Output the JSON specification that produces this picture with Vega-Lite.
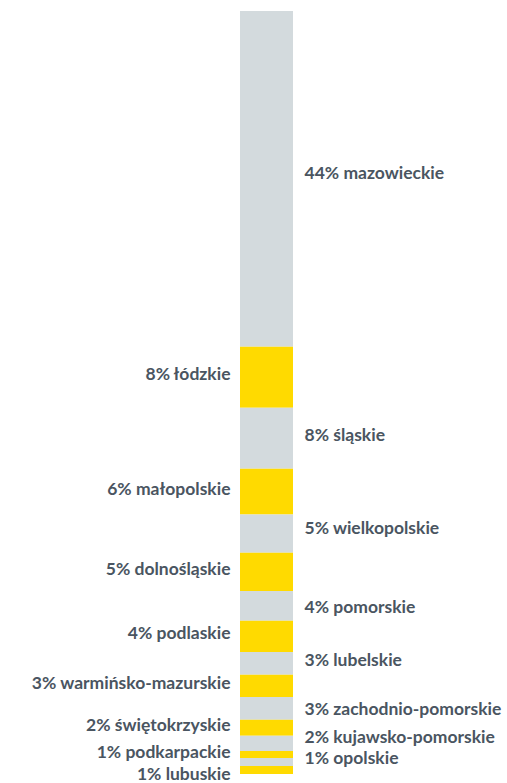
{
  "$schema": "https://vega.github.io/schema/vega-lite/v6.json",
  "autosize": "none",
  "width": 53,
  "height": 763,
  "padding": {"left": 240, "top": 11, "right": 214, "bottom": 9},
  "background": "white",
  "config": {"view": {"stroke": null}},
  "data": {"values": [
    {"region": "mazowieckie", "label": "44% mazowieckie", "pct": 44.0, "order": 1, "group": "a"},
    {"region": "łódzkie", "label": "8% łódzkie", "pct": 8.0, "order": 2, "group": "b"},
    {"region": "śląskie", "label": "8% śląskie", "pct": 8.0, "order": 3, "group": "a"},
    {"region": "małopolskie", "label": "6% małopolskie", "pct": 6.0, "order": 4, "group": "b"},
    {"region": "wielkopolskie", "label": "5% wielkopolskie", "pct": 5.0, "order": 5, "group": "a"},
    {"region": "dolnośląskie", "label": "5% dolnośląskie", "pct": 5.0, "order": 6, "group": "b"},
    {"region": "pomorskie", "label": "4% pomorskie", "pct": 3.9, "order": 7, "group": "a"},
    {"region": "podlaskie", "label": "4% podlaskie", "pct": 4.1, "order": 8, "group": "b"},
    {"region": "lubelskie", "label": "3% lubelskie", "pct": 3.0, "order": 9, "group": "a"},
    {"region": "warmińsko-mazurskie", "label": "3% warmińsko-mazurskie", "pct": 2.9, "order": 10, "group": "b"},
    {"region": "zachodnio-pomorskie", "label": "3% zachodnio-pomorskie", "pct": 3.0, "order": 11, "group": "a"},
    {"region": "świętokrzyskie", "label": "2% świętokrzyskie", "pct": 2.1, "order": 12, "group": "b"},
    {"region": "kujawsko-pomorskie", "label": "2% kujawsko-pomorskie", "pct": 2.0, "order": 13, "group": "a"},
    {"region": "podkarpackie", "label": "1% podkarpackie", "pct": 0.9, "order": 14, "group": "b"},
    {"region": "opolskie", "label": "1% opolskie", "pct": 1.05, "order": 15, "group": "a"},
    {"region": "lubuskie", "label": "1% lubuskie", "pct": 1.05, "order": 16, "group": "b"}
  ]},
  "transform": [
    {"stack": "pct", "sortby": [{"field": "order", "order": "ascending"}], "as": ["y0", "y1"]},
    {"calculate": "(datum.y0 + datum.y1) / 2", "as": "ymid"},
    {"calculate": "'Polska'", "as": "bar"}
  ],
  "encoding": {
    "x": {"field": "bar", "type": "nominal", "axis": null, "scale": {"paddingInner": 0, "paddingOuter": 0}}
  },
  "layer": [
    {
      "mark": {"type": "bar"},
      "encoding": {
        "y": {"field": "y0", "type": "quantitative", "axis": null, "scale": {"domain": [0, 100], "reverse": true, "nice": false}},
        "y2": {"field": "y1"},
        "color": {"field": "group", "type": "nominal", "legend": null, "scale": {"domain": ["a", "b"], "range": ["#d3dadd", "#ffda00"]}}
      }
    },
    {
      "transform": [{"filter": "datum.group == 'a' && indexof(['mazowieckie','wielkopolskie','kujawsko-pomorskie','opolskie','zachodnio-pomorskie','pomorskie'], datum.region) < 0"}],
      "mark": {"type": "text", "align": "left", "baseline": "middle", "dx": 38, "dy": -2, "font": "Lato", "fontWeight": "bold", "fontSize": 17.5, "letterSpacing": 0.5, "color": "#4a5561"},
      "encoding": {"y": {"field": "ymid", "type": "quantitative"}, "text": {"field": "label"}}
    },
    {
      "transform": [{"filter": "indexof(['mazowieckie','wielkopolskie','kujawsko-pomorskie'], datum.region) >= 0"}],
      "mark": {"type": "text", "align": "left", "baseline": "middle", "dx": 38, "dy": -5, "font": "Lato", "fontWeight": "bold", "fontSize": 17.5, "letterSpacing": 0.5, "color": "#4a5561"},
      "encoding": {"y": {"field": "ymid", "type": "quantitative"}, "text": {"field": "label"}}
    },
    {
      "transform": [{"filter": "datum.region == 'opolskie'"}],
      "mark": {"type": "text", "align": "left", "baseline": "middle", "dx": 38, "dy": -3, "font": "Lato", "fontWeight": "bold", "fontSize": 17.5, "letterSpacing": 0.5, "color": "#4a5561"},
      "encoding": {"y": {"field": "ymid", "type": "quantitative"}, "text": {"field": "label"}}
    },
    {
      "transform": [{"filter": "datum.region == 'zachodnio-pomorskie' || datum.region == 'pomorskie'"}],
      "mark": {"type": "text", "align": "left", "baseline": "middle", "dx": 38, "dy": 2, "font": "Lato", "fontWeight": "bold", "fontSize": 17.5, "letterSpacing": 0.5, "color": "#4a5561"},
      "encoding": {"y": {"field": "ymid", "type": "quantitative"}, "text": {"field": "label"}}
    },
    {
      "transform": [{"filter": "datum.group == 'b' && datum.region != 'lubuskie'"}],
      "mark": {"type": "text", "align": "right", "baseline": "middle", "dx": -36, "dy": -2, "font": "Lato", "fontWeight": "bold", "fontSize": 17.5, "letterSpacing": 0.5, "color": "#4a5561"},
      "encoding": {"y": {"field": "ymid", "type": "quantitative"}, "text": {"field": "label"}}
    },
    {
      "transform": [{"filter": "datum.region == 'lubuskie'"}],
      "mark": {"type": "text", "align": "right", "baseline": "middle", "dx": -36, "dy": 5, "font": "Lato", "fontWeight": "bold", "fontSize": 17.5, "letterSpacing": 0.5, "color": "#4a5561"},
      "encoding": {"y": {"field": "ymid", "type": "quantitative"}, "text": {"field": "label"}}
    }
  ]
}
